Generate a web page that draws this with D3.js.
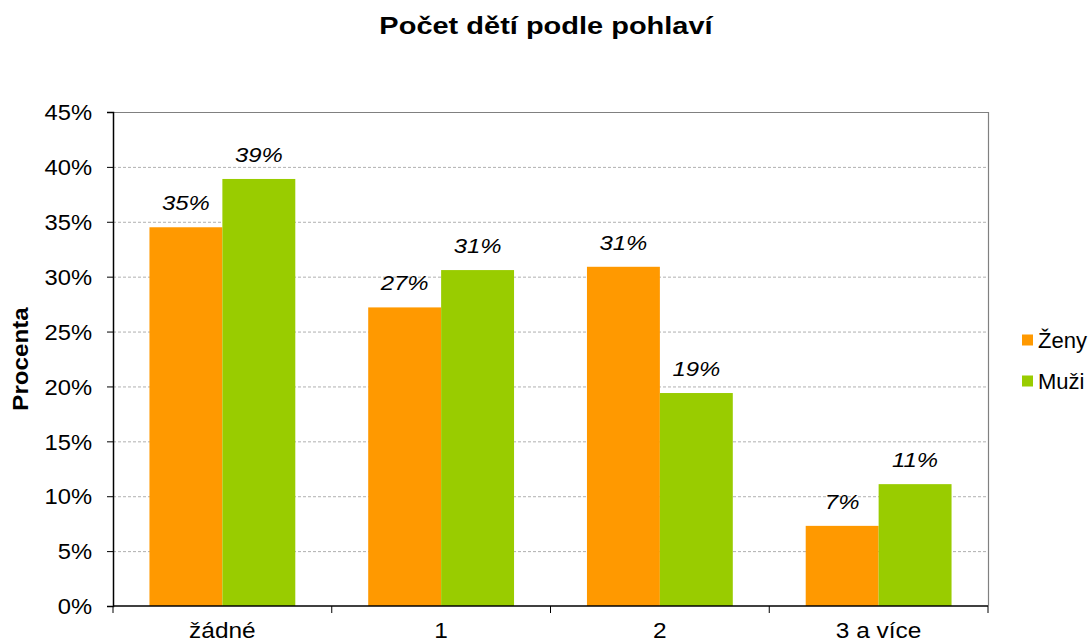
<!DOCTYPE html>
<html>
<head>
<meta charset="utf-8">
<script src="https://cdn.jsdelivr.net/npm/d3@7"></script>
<style>
  body { margin: 0; background: #fff; }
  text { font-family: "Liberation Sans", Arial, sans-serif; fill: #000; }
</style>
</head>
<body>
<script>
// chart data
var categories = ["žádné", "1", "2", "3 a více"];
var seriesNames = ["Ženy", "Muži"];
var zeny = [34.5, 27.2, 30.9, 7.3];
var muzi = [38.9, 30.6, 19.4, 11.1];
var yTicks = [0, 5, 10, 15, 20, 25, 30, 35, 40, 45];
var colors = ["#FF9900", "#99CC00"];

var width = 1089, height = 644,
    margin = {top: 112, right: 101, bottom: 38, left: 113};

var svg = d3.select("body").append("svg")
    .attr("width", width)
    .attr("height", height);

/**
 * The original renders its fonts a bit wider than Arial, so stretch
 * each text horizontally around its own anchor point.
 */
function stretch(sel, sx) {
    sel.attr("transform", function() {
        var t = d3.select(this),
            x = +t.attr("x") || 0,
            y = +t.attr("y") || 0;
        return "translate(" + x + "," + y + ") scale(" + sx + ",1) translate(" + (-x) + "," + (-y) + ")";
    });
}

var x0 = d3.scaleBand()
    .domain(categories)
    .range([margin.left, width - margin.right])
    .paddingInner(1/3)
    .paddingOuter(1/6);

var x1 = d3.scaleBand()
    .domain(seriesNames)
    .range([0, x0.bandwidth()]);

var y = d3.scaleLinear()
    .domain([0, 45])
    .range([height - margin.bottom, margin.top]);

// gridlines
svg.append("g")
    .selectAll("line")
    .data(yTicks.slice(1, -1))
    .enter().append("line")
    .attr("x1", margin.left)
    .attr("x2", width - margin.right)
    .attr("y1", function(d) { return y(d) + 0.5; })
    .attr("y2", function(d) { return y(d) + 0.5; })
    .style("stroke", "#b0b0b0")
    .style("stroke-dasharray", "3,2")
    .style("stroke-width", 1);

// top and right border
svg.append("path")
    .attr("d", "M" + margin.left + "," + (margin.top + 0.5) +
               "H" + (width - margin.right + 0.5) +
               "V" + (height - margin.bottom))
    .style("fill", "none")
    .style("stroke", "#808080")
    .style("stroke-width", 1.2);

// bars
var rows = categories.map(function(c, i) {
    return {cat: c, values: [zeny[i], muzi[i]]};
});

var groups = svg.append("g")
    .selectAll("g")
    .data(rows)
    .enter().append("g")
    .attr("transform", function(d) { return "translate(" + x0(d.cat) + ",0)"; });

groups.selectAll("rect")
    .data(function(d) {
        return d.values.map(function(v, j) { return {name: seriesNames[j], v: v, j: j}; });
    })
    .enter().append("rect")
    .attr("x", function(d) { return x1(d.name); })
    .attr("width", x1.bandwidth())
    .attr("y", function(d) { return y(d.v); })
    .attr("height", function(d) { return y(0) - y(d.v); })
    .style("fill", function(d) { return colors[d.j]; });

groups.selectAll("text")
    .data(function(d) {
        return d.values.map(function(v, j) { return {name: seriesNames[j], v: v}; });
    })
    .enter().append("text")
    .attr("x", function(d) { return x1(d.name) + x1.bandwidth() / 2; })
    .attr("y", function(d) { return y(d.v) - 17; })
    .attr("text-anchor", "middle")
    .style("font-size", "21px")
    .style("font-style", "italic")
    .text(function(d) { return Math.round(d.v) + "%"; })
    .call(stretch, 1.14);

// y axis
var yAxis = svg.append("g")
    .attr("transform", "translate(" + margin.left + ",0)")
    .call(d3.axisLeft(y).tickValues(yTicks).tickSize(6).tickPadding(15)
        .tickFormat(function(d) { return d + "%"; }));
yAxis.select(".domain").style("stroke", "#000").style("stroke-width", 1.5);
yAxis.selectAll(".tick line").style("stroke", "#000");
yAxis.selectAll("text")
    .style("font-size", "22px")
    .attr("dy", "0.35em")
    .attr("y", 0)
    .call(stretch, 1.08);

// x axis with ticks at category edges
var xAxisG = svg.append("g")
    .attr("transform", "translate(0," + y(0) + ")");
xAxisG.append("line")
    .attr("x1", margin.left)
    .attr("x2", width - margin.right)
    .style("stroke", "#000")
    .style("stroke-width", 1.5);
var step = x0.step();
var edges = d3.range(categories.length + 1).map(function(i) {
    return x0(categories[0]) - x0.paddingOuter() * step + i * step;
});
xAxisG.selectAll(".edge")
    .data(edges)
    .enter().append("line")
    .attr("class", "edge")
    .attr("x1", function(d) { return d; })
    .attr("x2", function(d) { return d; })
    .attr("y1", 0)
    .attr("y2", 7)
    .style("stroke", "#000");
xAxisG.selectAll("text")
    .data(categories)
    .enter().append("text")
    .attr("x", function(d) { return x0(d) + x0.bandwidth() / 2; })
    .attr("y", 32)
    .attr("text-anchor", "middle")
    .style("font-size", "22px")
    .text(function(d) { return d; })
    .call(stretch, 1.11);

// title
svg.append("text")
    .attr("x", 546)
    .attr("y", 34)
    .attr("text-anchor", "middle")
    .style("font-size", "23px")
    .style("font-weight", "bold")
    .text("Počet dětí podle pohlaví")
    .call(stretch, 1.26);

// y axis title
svg.append("g")
    .attr("transform", "translate(28," + ((margin.top + height - margin.bottom) / 2) + ") rotate(-90)")
    .append("text")
    .attr("text-anchor", "middle")
    .style("font-size", "22px")
    .style("font-weight", "bold")
    .text("Procenta")
    .call(stretch, 1.1);

// legend
var legend = svg.append("g")
    .selectAll("g")
    .data(seriesNames)
    .enter().append("g")
    .attr("transform", function(d, i) { return "translate(1022," + (340 + i * 41) + ")"; });
legend.append("rect")
    .attr("x", 0)
    .attr("y", -5.5)
    .attr("width", 11)
    .attr("height", 11)
    .style("fill", function(d, i) { return colors[i]; });
legend.append("text")
    .attr("x", 16)
    .attr("y", 0)
    .attr("dy", "0.35em")
    .style("font-size", "22px")
    .text(function(d) { return d; });
</script>
</body>
</html>
